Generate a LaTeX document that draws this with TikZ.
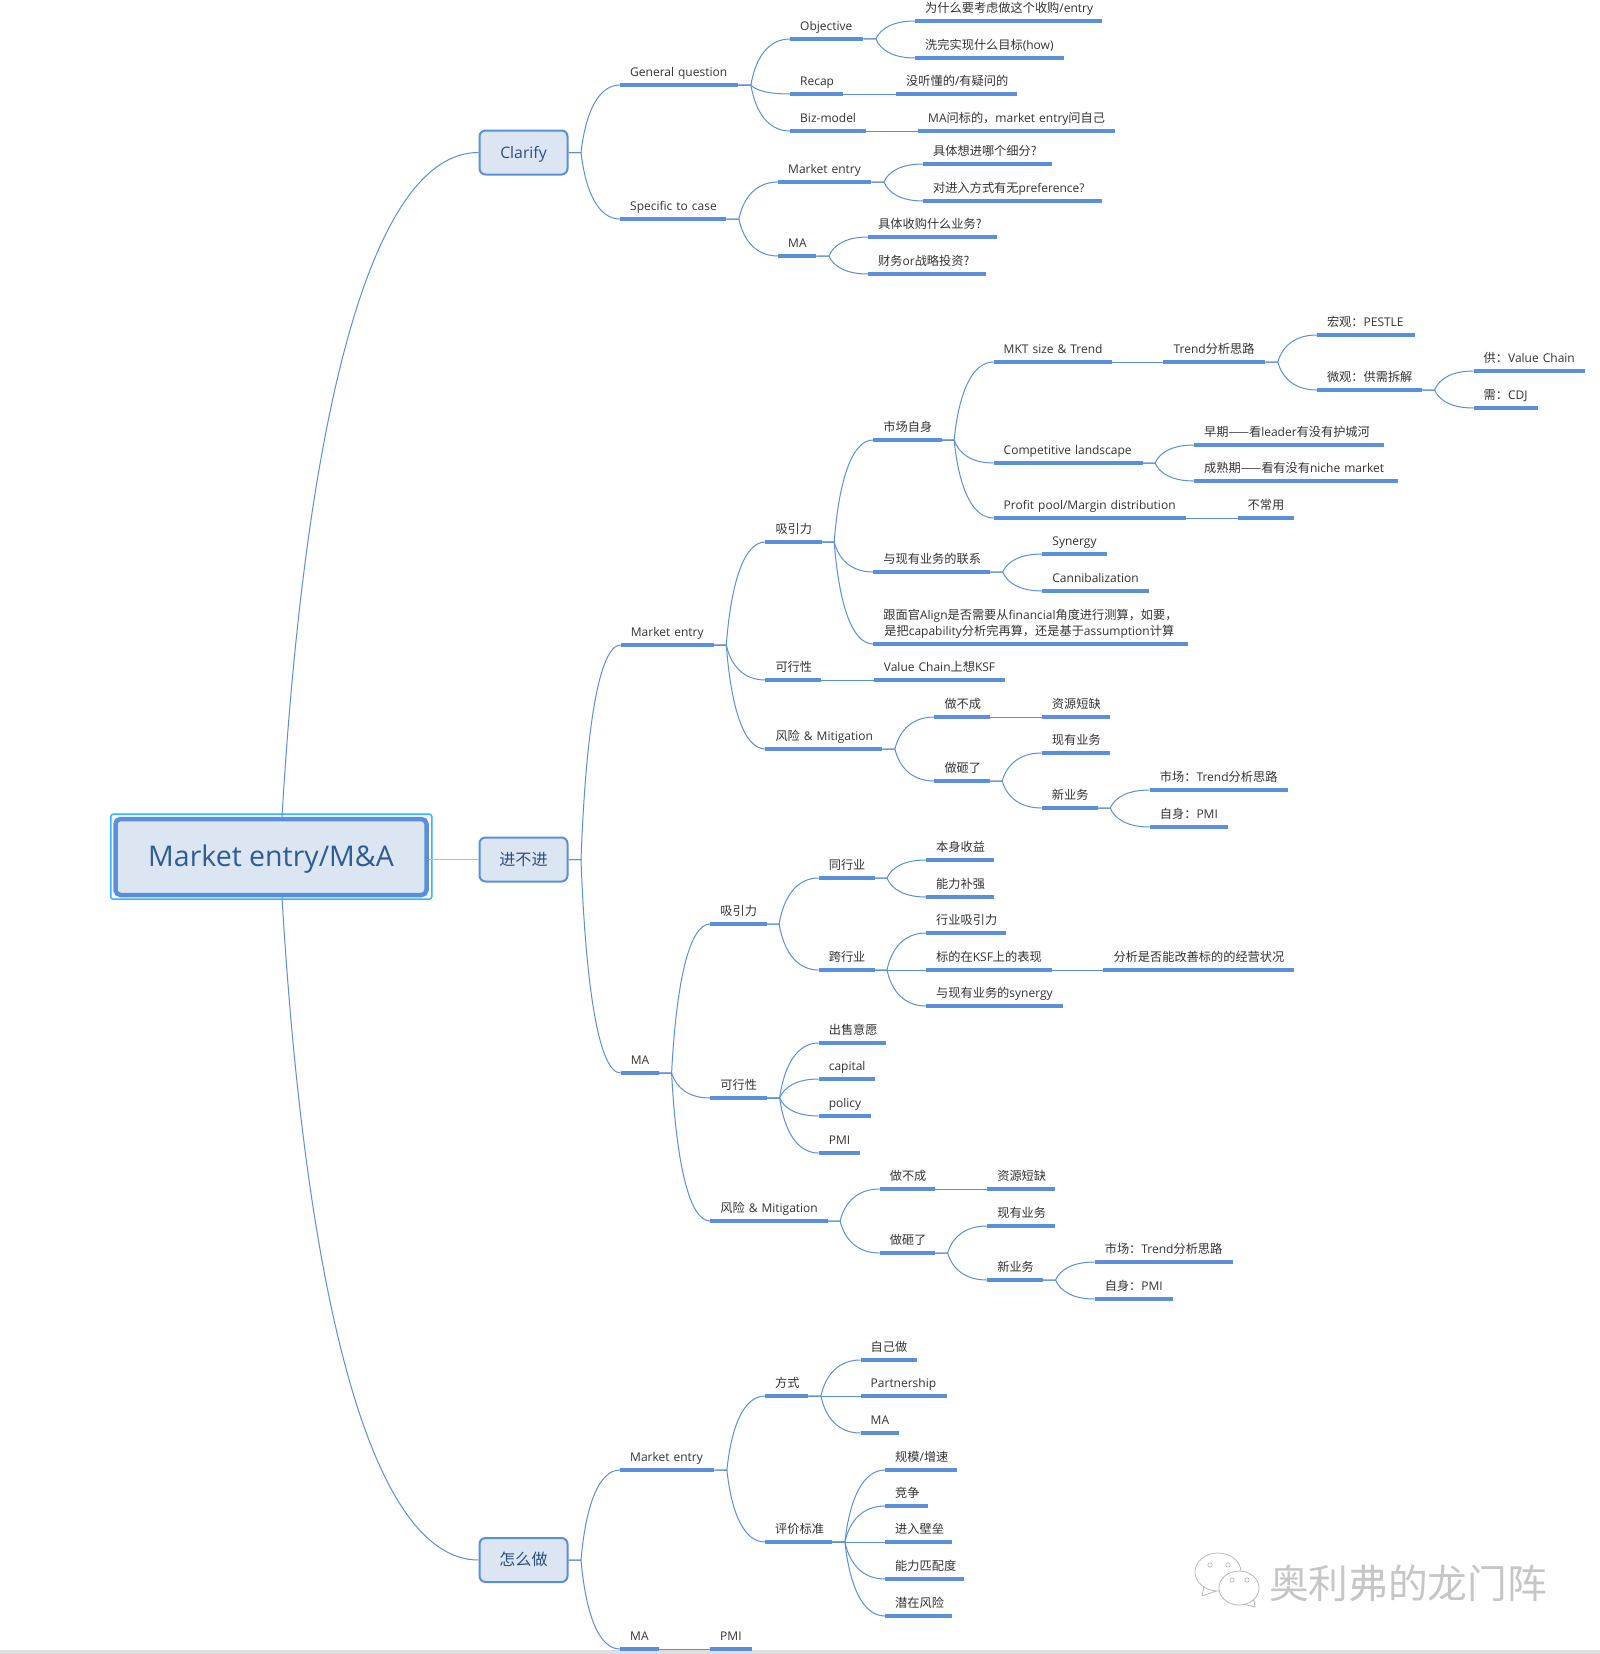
\documentclass[tikz,border=0pt]{standalone}
\usepackage{fontspec}
\setmainfont{Open Sans}
\newfontfamily\cjk[Scale=1.0167]{Noto Sans CJK SC}
\usetikzlibrary{calc}
\definecolor{linkblue}{HTML}{5A8FDB}
\definecolor{palelink}{HTML}{9DC2EE}
\definecolor{fillblue}{HTML}{DCE6F3}
\definecolor{frameblue}{HTML}{33B5FF}
\definecolor{rootink}{HTML}{2F5C94}
\definecolor{boxink}{HTML}{2C4F7E}
\definecolor{leafink}{HTML}{333333}
\newcommand{\zh}[1]{{\cjk #1}}
\newcommand{\branch}[3][south east]{\foreach \kid in {#3} \draw[conn] (#2.#1) -- ++(12.5,0) to[curve] (\kid.south west);}
\newcommand{\direct}[2]{\draw[conn] (#1.south east) -- (#2.south west);}
\tikzset{
 conn/.style={draw=linkblue,line width=1pt},
 curve/.style={to path={let \p1=(\tikztostart),\p2=(\tikztotarget) in .. controls ({\x1+0.12*(\x2-\x1)},{\y1+0.6*(\y2-\y1)}) and ({\x1+0.45*(\x2-\x1)},\y2) .. (\tikztotarget)}},
 topic/.style={anchor=south west,text width=#1,align=left,inner xsep=0pt,inner ysep=0pt,text height=10pt,text depth=8.6pt,text=leafink,font=\fontsize{12}{16}\selectfont,
  execute at begin node=\hspace*{10pt},
  append after command={(\tikzlastnode.south west) edge[draw=linkblue,line width=3.4pt] (\tikzlastnode.south east)}},
 mainbox/.style={draw=linkblue,fill=fillblue,line width=2pt,rounded corners=6pt,minimum width=88pt,minimum height=44pt,text height=14pt,text depth=3pt,text=boxink,font=\fontsize{15.8}{18}\selectfont},
 wechat/.style={draw=gray!60,fill=white,line width=.7pt}
}
\begin{document}
\begin{tikzpicture}[x=1pt,y=-1pt]
 \useasboundingbox (0,0) rectangle (1600,1654);
 \fill[white] (0,0) rectangle (1600,1654);
 \fill[gray!25] (0,1650) rectangle (1600,1654);

 \node[draw=frameblue,line width=1.5pt,rounded corners=2.5pt,minimum width=321pt,minimum height=85pt] (rootframe) at (271.3,856.7) {};
 \node[draw=linkblue,fill=fillblue,line width=4.5pt,rounded corners=5pt,minimum width=311pt,minimum height=76pt,text height=26pt,text depth=8pt,text=rootink,font=\fontsize{28.5}{32}\selectfont] (root) at (271,857) {Market entry/M\&A};
 \node[mainbox] (clarify) at (523.5,152.5) {Clarify};
 \node[mainbox] (jinbujin) at (523.5,859.5) {\zh{进不进}};
 \node[mainbox] (zenme) at (523.5,1560) {\zh{怎么做}};

 \node[topic=118pt] (gq) at (620,85) {General question};
 \node[topic=73pt] (obj) at (790,39) {Objective};
 \node[topic=187pt] (objwhy) at (915,21) {\zh{为什么要考虑做这个收购}/entry};
 \node[topic=149pt] (objhow) at (915,58) {\zh{洗完实现什么目标}(how)};
 \node[topic=53pt] (recap) at (790,94) {Recap};
 \node[topic=121pt] (recapq) at (896,94) {\zh{没听懂的}/\zh{有疑问的}};
 \node[topic=76pt] (biz) at (790,131) {Biz-model};
 \node[topic=197pt] (bizq) at (918,131) {MA\zh{问标的，}market entry\zh{问自己}};
 \node[topic=106pt] (spec) at (620,219) {Specific to case};
 \node[topic=93pt] (specme) at (778,182) {Market entry};
 \node[topic=129pt] (specseg) at (923,164) {\zh{具体想进哪个细分?}};
 \node[topic=179pt] (specpref) at (923,201) {\zh{对进入方式有无}preference?};
 \node[topic=38pt] (specma) at (778,256) {MA};
 \node[topic=129pt] (specbuy) at (868,237) {\zh{具体收购什么业务?}};
 \node[topic=118pt] (specinv) at (868,274) {\zh{财务}or\zh{战略投资?}};

 \node[topic=92.7pt] (me) at (620.7,645) {Market entry};
 \node[topic=56pt] (meattr) at (765.3,542) {\zh{吸引力}};
 \node[topic=68pt] (market) at (873.2,440) {\zh{市场自身}};
 \node[topic=118pt] (mkt) at (993.5,362) {MKT size \& Trend};
 \node[topic=101.5pt] (trend) at (1163.4,362) {Trend\zh{分析思路}};
 \node[topic=97.7pt] (macro) at (1316.8,335) {\zh{宏观：}PESTLE};
 \node[topic=104.8pt] (micro) at (1316.8,390) {\zh{微观：供需拆解}};
 \node[topic=111.3pt] (supply) at (1473.5,371) {\zh{供：}Value Chain};
 \node[topic=64pt] (demand) at (1473.5,408) {\zh{需：}CDJ};
 \node[topic=148.7pt] (comp) at (993.5,463) {Competitive landscape};
 \node[topic=189.8pt] (early) at (1194,445) {\zh{早期——看}leader\zh{有没有护城河}};
 \node[topic=204pt] (mature) at (1194,481) {\zh{成熟期——看有没有}niche market};
 \node[topic=192pt] (profit) at (993.5,518) {Profit pool/Margin distribution};
 \node[topic=55.7pt] (rare) at (1237.5,518) {\zh{不常用}};
 \node[topic=116.6pt] (link) at (873.2,572) {\zh{与现有业务的联系}};
 \node[topic=64pt] (synergy) at (1042.2,554) {Synergy};
 \node[topic=106.6pt] (canni) at (1042.2,591) {Cannibalization};
 \node[topic=314.8pt,text depth=24.6pt] (align) at (873.2,644) {\zh{跟面官}Align\zh{是否需要从}financial\zh{角度进行测算，如要，}\\\hspace*{11pt}\zh{是把}capability\zh{分析完再算，还是基于}assumption\zh{计算}};
 \node[topic=55.6pt] (mefeas) at (765.3,680) {\zh{可行性}};
 \node[topic=131.3pt] (ksf) at (873.7,680) {Value Chain\zh{上想}KSF};
 \node[topic=116.7pt] (merisk) at (765.3,749) {\zh{风险} \& Mitigation};
 \node[topic=55pt] (mefail) at (934.3,717) {\zh{做不成}};
 \node[topic=68pt] (meshort) at (1041.7,717) {\zh{资源短缺}};
 \node[topic=55pt] (mebad) at (934.3,781) {\zh{做砸了}};
 \node[topic=68pt] (mecur) at (1041.7,753) {\zh{现有业务}};
 \node[topic=55.6pt] (menew) at (1041.7,808) {\zh{新业务}};
 \node[topic=137.7pt] (memkt) at (1149.7,790) {\zh{市场：}Trend\zh{分析思路}};
 \node[topic=77.6pt] (mepmi) at (1149.7,827) {\zh{自身：}PMI};

 \node[topic=38pt] (ma) at (620.7,1073) {MA};
 \node[topic=56pt] (maattr) at (710.2,924) {\zh{吸引力}};
 \node[topic=55.5pt] (same) at (818.6,878) {\zh{同行业}};
 \node[topic=67.5pt] (gain) at (926,860) {\zh{本身收益}};
 \node[topic=67.5pt] (skill) at (926,897) {\zh{能力补强}};
 \node[topic=55.5pt] (cross) at (818.6,970) {\zh{跨行业}};
 \node[topic=80pt] (sector) at (926,933) {\zh{行业吸引力}};
 \node[topic=125.4pt] (target) at (926,970) {\zh{标的在}KSF\zh{上的表现}};
 \node[topic=190.1pt] (improve) at (1103.3,970) {\zh{分析是否能改善标的的经营状况}};
 \node[topic=136.4pt] (synbiz) at (926,1006) {\zh{与现有业务的}synergy};
 \node[topic=56.5pt] (mafeas) at (710.2,1098) {\zh{可行性}};
 \node[topic=67.4pt] (sell) at (818.6,1043) {\zh{出售意愿}};
 \node[topic=56pt] (capital) at (818.6,1079) {capital};
 \node[topic=51.9pt] (policy) at (818.6,1116) {policy};
 \node[topic=40.8pt] (pmi) at (818.6,1153) {PMI};
 \node[topic=117pt] (marisk) at (710.2,1221) {\zh{风险} \& Mitigation};
 \node[topic=55.2pt] (mafail) at (879.6,1189) {\zh{做不成}};
 \node[topic=67.5pt] (mashort) at (987.1,1189) {\zh{资源短缺}};
 \node[topic=55.2pt] (mabad) at (879.6,1253) {\zh{做砸了}};
 \node[topic=67.5pt] (macur) at (987.1,1226) {\zh{现有业务}};
 \node[topic=55.6pt] (manew) at (987.1,1280) {\zh{新业务}};
 \node[topic=138.2pt] (mamkt) at (1094.6,1262) {\zh{市场：}Trend\zh{分析思路}};
 \node[topic=78pt] (mapmi) at (1094.6,1299) {\zh{自身：}PMI};

 \node[topic=94pt] (howme) at (620,1470) {Market entry};
 \node[topic=43pt] (way) at (765,1396) {\zh{方式}};
 \node[topic=56pt] (self) at (860.5,1360) {\zh{自己做}};
 \node[topic=86pt] (partner) at (860.5,1396) {Partnership};
 \node[topic=38pt] (wayma) at (860.5,1433) {MA};
 \node[topic=67pt] (crit) at (765,1542) {\zh{评价标准}};
 \node[topic=72pt] (scale) at (885,1470) {\zh{规模}/\zh{增速}};
 \node[topic=43pt] (rival) at (885,1506) {\zh{竞争}};
 \node[topic=67pt] (barrier) at (885,1542) {\zh{进入壁垒}};
 \node[topic=79pt] (fit) at (885,1579) {\zh{能力匹配度}};
 \node[topic=67pt] (risk) at (885,1616) {\zh{潜在风险}};
 \node[topic=39pt] (howma) at (620,1649) {MA};
 \node[topic=42pt] (howpmi) at (710,1649) {PMI};

 \draw[conn] ([xshift=11pt]root.north) to[curve] (clarify.west);
 \draw[conn] ([xshift=11pt]root.south) to[curve] (zenme.west);
 \draw[draw=palelink,line width=1.5pt] (root.east |- jinbujin.west) -- (jinbujin.west);

 \branch[east]{clarify}{gq,spec}
 \branch[east]{jinbujin}{me,ma}
 \branch[east]{zenme}{howme,howma}
 \branch{gq}{obj,recap,biz}
 \branch{obj}{objwhy,objhow}
 \direct{recap}{recapq}
 \direct{biz}{bizq}
 \branch{spec}{specme,specma}
 \branch{specme}{specseg,specpref}
 \branch{specma}{specbuy,specinv}
 \branch{me}{meattr,mefeas,merisk}
 \branch{meattr}{market,link,align}
 \branch{market}{mkt,comp,profit}
 \direct{mkt}{trend}
 \branch{trend}{macro,micro}
 \branch{micro}{supply,demand}
 \branch{comp}{early,mature}
 \direct{profit}{rare}
 \branch{link}{synergy,canni}
 \direct{mefeas}{ksf}
 \branch{merisk}{mefail,mebad}
 \direct{mefail}{meshort}
 \branch{mebad}{mecur,menew}
 \branch{menew}{memkt,mepmi}
 \branch{ma}{maattr,mafeas,marisk}
 \branch{maattr}{same,cross}
 \branch{same}{gain,skill}
 \branch{cross}{sector,target,synbiz}
 \direct{target}{improve}
 \branch{mafeas}{sell,capital,policy,pmi}
 \branch{marisk}{mafail,mabad}
 \direct{mafail}{mashort}
 \branch{mabad}{macur,manew}
 \branch{manew}{mamkt,mapmi}
 \branch{howme}{way,crit}
 \branch{way}{self,partner,wayma}
 \branch{crit}{scale,rival,barrier,fit,risk}
 \direct{howma}{howpmi}

 \draw[wechat] (1204,1586) -- (1202,1596) -- (1216,1591) -- cycle;
 \draw[wechat] (1218,1572) ellipse (23pt and 19pt);
 \draw[wechat] (1254,1600) -- (1255,1607) -- (1243,1604) -- cycle;
 \draw[wechat] (1239,1588) ellipse (20pt and 17pt);
 \foreach \ex/\ey in {1210/1565,1228/1565,1232/1580,1247/1580}
  \draw[draw=gray!60,line width=.6pt] (\ex,\ey) circle (2.2pt);
 \node[text=gray!45,font=\cjk\fontsize{39.05}{42}\selectfont,inner sep=0pt] (mark) at (1408,1583) {奥利弗的龙门阵};
\end{tikzpicture}
\end{document}
